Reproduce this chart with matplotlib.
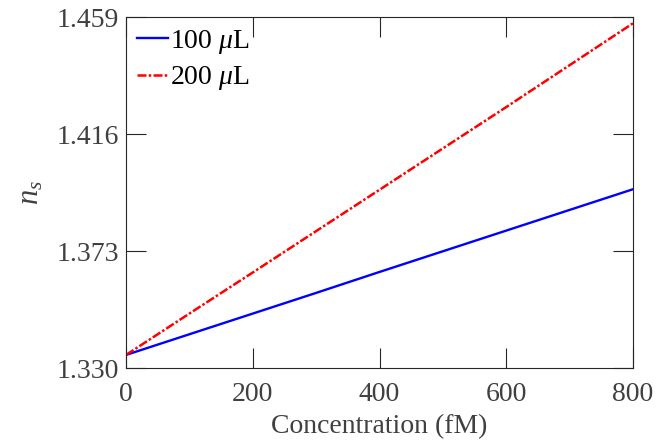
import matplotlib
matplotlib.use("Agg")
import matplotlib.pyplot as plt
import numpy as np

conc = [0, 100, 200, 300, 400, 500, 600, 700, 800]
ns_100 = [1.3348, 1.3424, 1.3500, 1.3576, 1.3653, 1.3729, 1.3805, 1.3881, 1.3957]
ns_200 = [1.3348, 1.3500, 1.3651, 1.3803, 1.3955, 1.4107, 1.4259, 1.4413, 1.4567]
xticks = [0, 200, 400, 600, 800]
yticks = [1.330, 1.373, 1.416, 1.459]
ytick_labels = ["1.330", "1.373", "1.416", "1.459"]

plt.rcParams['font.family'] = ['Liberation Serif', 'DejaVu Serif']
plt.rcParams['mathtext.fontset'] = 'custom'
plt.rcParams['mathtext.rm'] = 'Liberation Serif'
plt.rcParams['mathtext.it'] = 'Liberation Serif:italic'

fig = plt.figure(figsize=(6.57, 4.44), dpi=100)
ax = fig.add_axes([126/657, 1 - 368/444, (633-126)/657, (368-17)/444])

ax.plot(conc, ns_100, color='#0000ff', lw=1.7, label=r'100 $\mu$L')
ax.plot(conc, ns_200, color='#ff0000', lw=1.8, ls=(0, (3.6, 0.9, 1.0, 0.9)), label=r'200 $\mu$L')

ax.set_xlim(0, 800)
ax.set_ylim(1.330, 1.459)
ax.set_xticks(xticks)
ax.set_yticks(yticks)
ax.set_yticklabels(ytick_labels)

gray = '#404040'
for s in ax.spines.values():
    s.set_color('#262626')
    s.set_linewidth(0.8)
ax.tick_params(direction='in', length=14.5, width=0.8, top=True, right=True,
               labelsize=20, colors='#262626', labelcolor=gray)
ax.tick_params(axis='x', pad=10)
ax.tick_params(axis='y', pad=5)

ax.set_xlabel('Concentration (fM)', fontsize=20, color=gray, labelpad=5)
ax.set_ylabel(r'$n_s$', fontsize=22, color=gray, labelpad=8)

leg = ax.legend(loc='upper left', frameon=False, fontsize=20, handlelength=1.1,
                handletextpad=0.1, borderaxespad=0.3, labelspacing=0.3, borderpad=0.1)

fig.savefig('out.png', dpi=100)
